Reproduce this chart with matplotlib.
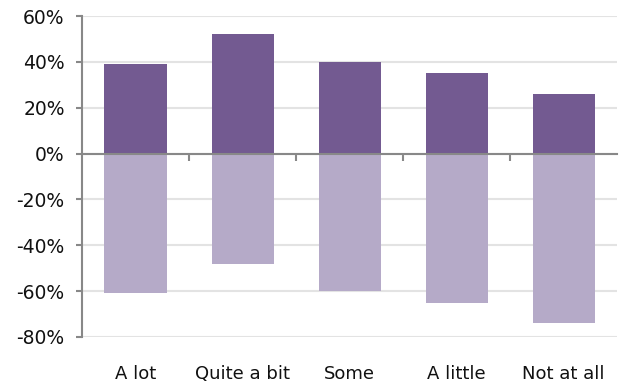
import matplotlib.pyplot as plt
import numpy as np
from matplotlib.ticker import FuncFormatter

categories = ["A lot", "Quite a bit", "Some", "A little", "Not at all"]
positive = [39, 52, 40, 35, 26]
negative = [-61, -48, -60, -65, -74]

dark = "#735A91"
light = "#B5AAC8"

plt.rcParams['font.family'] = ['DejaVu Sans']

fig = plt.figure(figsize=(6.26, 3.85), dpi=100)
ax = fig.add_axes([0.131, 0.125, 0.855, 0.833])

x = np.arange(len(categories))
ax.bar(x, positive, width=0.58, color=dark, zorder=3)
ax.bar(x, negative, width=0.58, color=light, zorder=3)

ax.set_xlim(-0.5, len(categories) - 0.5)
ax.set_ylim(-80, 60)
ax.set_yticks(range(-80, 61, 20))
ax.yaxis.set_major_formatter(FuncFormatter(lambda v, p: f"{int(v)}%"))
ax.grid(axis='y', color="#E3E3E3", linewidth=1.5, zorder=0)

for s in ['top', 'right']:
    ax.spines[s].set_visible(False)
ax.spines['left'].set_color("#888888")
ax.spines['left'].set_linewidth(1.5)
ax.spines['bottom'].set_position(('data', 0))
ax.spines['bottom'].set_color("#888888")
ax.spines['bottom'].set_linewidth(1.5)
ax.spines['bottom'].set_zorder(4)

ax.tick_params(axis='y', colors="#888888", labelcolor="#111111", labelsize=13.5,
               length=4.5, width=1.5, direction='out', pad=8)
ax.set_xticks(x[:-1] + 0.5)
ax.set_xticklabels([])
ax.tick_params(axis='x', colors="#888888", length=5, width=1.5, direction='out')

for xi, name in zip(x, categories):
    ax.text(xi, -0.115, name, transform=ax.get_xaxis_transform(),
            ha='center', va='center', fontsize=13, color="#111111")

fig.savefig("out.png", dpi=100)
